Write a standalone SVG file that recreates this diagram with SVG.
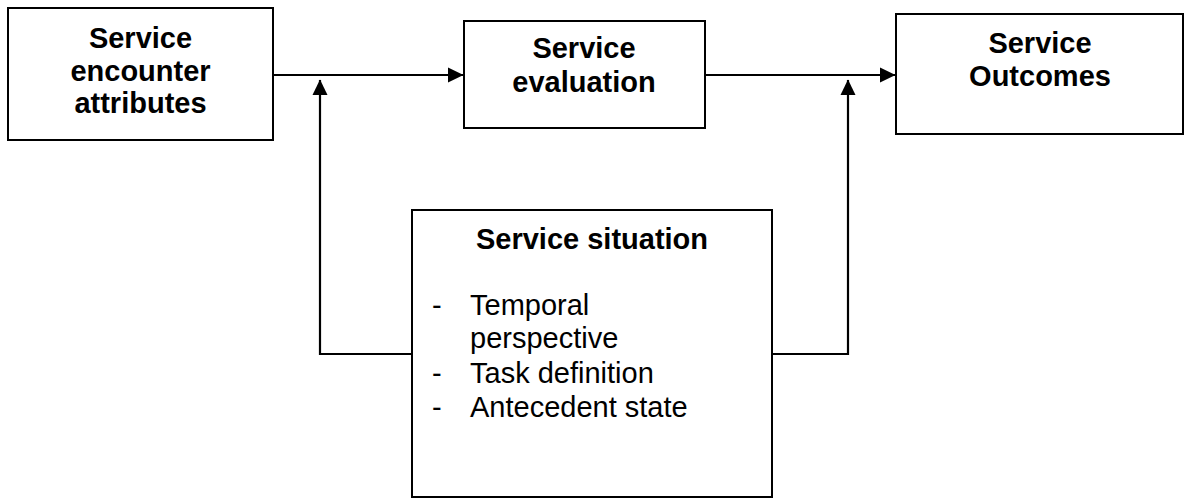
<svg xmlns="http://www.w3.org/2000/svg" width="1184" height="498" viewBox="0 0 1184 498">
<style>
.box{fill:#fff;stroke:#000;stroke-width:2}
.t{font-family:"Liberation Sans",Arial,sans-serif;font-size:29px;fill:#000}
.b{font-weight:bold;text-anchor:middle}
.ln{fill:none;stroke:#000;stroke-width:2.2}
</style>
<defs>
<marker id="ah" viewBox="0 0 16 16" refX="15" refY="8" markerWidth="16" markerHeight="16" markerUnits="userSpaceOnUse" orient="auto">
<path d="M0,0.5 L15.5,8 L0,15.5 Z" fill="#000"/>
</marker>
</defs>
<g id="connectors">
<line class="ln" x1="273" y1="75" x2="463" y2="75" marker-end="url(#ah)"/>
<line class="ln" x1="705" y1="75" x2="895" y2="75" marker-end="url(#ah)"/>
<polyline class="ln" points="412,354 320,354 320,80" marker-end="url(#ah)"/>
<polyline class="ln" points="772,354 848,354 848,80" marker-end="url(#ah)"/>
</g>
<g id="node-attributes">
<rect class="box" x="8" y="8" width="265" height="132"/>
<text class="t b" x="140.5" y="48">Service</text>
<text class="t b" x="140.5" y="81">encounter</text>
<text class="t b" x="140.5" y="113">attributes</text>
</g>
<g id="node-evaluation">
<rect class="box" x="464" y="21" width="241" height="107"/>
<text class="t b" x="584" y="58">Service</text>
<text class="t b" x="584" y="92">evaluation</text>
</g>
<g id="node-outcomes">
<rect class="box" x="896" y="14" width="287" height="120"/>
<text class="t b" x="1040" y="53">Service</text>
<text class="t b" x="1040" y="86">Outcomes</text>
</g>
<g id="node-situation">
<rect class="box" x="412" y="210" width="360" height="287"/>
<text class="t b" x="592" y="249">Service situation</text>
<text class="t" x="432" y="315">-</text>
<text class="t" x="470" y="315">Temporal</text>
<text class="t" x="470" y="348">perspective</text>
<text class="t" x="432" y="383">-</text>
<text class="t" x="470" y="383">Task definition</text>
<text class="t" x="432" y="417">-</text>
<text class="t" x="470" y="417">Antecedent state</text>
</g>
</svg>
